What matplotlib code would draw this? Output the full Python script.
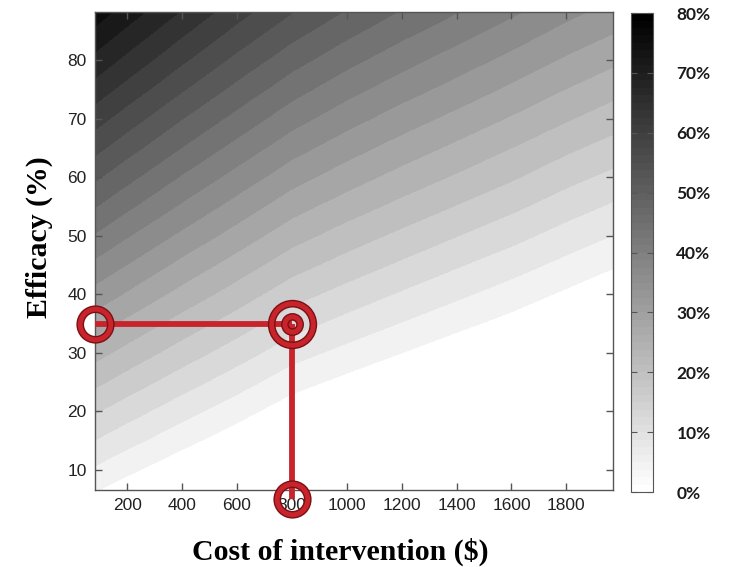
import numpy as np
import matplotlib
matplotlib.use("Agg")
import matplotlib.pyplot as plt
from matplotlib.colors import LinearSegmentedColormap, Normalize
import matplotlib.cm as cm

# ---- data ----
cost = [0, 200, 400, 600, 800, 1000, 1200, 1400, 1600, 1800, 2000]
efficacy = [5, 10, 15, 20, 25, 30, 35, 40, 45, 50, 55, 60, 65, 70, 75, 80, 85, 90]
# value (%) per efficacy row (rows) and cost column (columns)
value = [
    [4.5, 0.5, 0.0, 0.0, 0.0, 0.0, 0.0, 0.0, 0.0, 0.0, 0.0],
    [9.1, 4.9, 1.0, 0.0, 0.0, 0.0, 0.0, 0.0, 0.0, 0.0, 0.0],
    [13.7, 9.3, 5.3, 1.5, 0.0, 0.0, 0.0, 0.0, 0.0, 0.0, 0.0],
    [18.3, 13.7, 9.5, 5.6, 1.6, 0.0, 0.0, 0.0, 0.0, 0.0, 0.0],
    [22.9, 18.2, 13.8, 9.7, 5.6, 2.8, 0.3, 0.0, 0.0, 0.0, 0.0],
    [27.5, 22.6, 18.1, 13.9, 9.6, 6.7, 4.0, 1.4, 0.0, 0.0, 0.0],
    [32.1, 27.0, 22.3, 18.0, 13.6, 10.6, 7.8, 5.1, 2.6, 0.0, 0.0],
    [36.7, 31.5, 26.6, 22.1, 17.6, 14.4, 11.5, 8.8, 6.1, 3.3, 0.5],
    [41.3, 35.9, 30.8, 26.2, 21.6, 18.3, 15.3, 12.4, 9.7, 6.8, 4.0],
    [46.0, 40.3, 35.1, 30.3, 25.6, 22.1, 19.0, 16.1, 13.3, 10.3, 7.5],
    [50.6, 44.8, 39.4, 34.4, 29.6, 26.0, 22.8, 19.8, 16.9, 13.8, 11.0],
    [55.2, 49.2, 43.6, 38.5, 33.6, 29.9, 26.5, 23.5, 20.5, 17.3, 14.5],
    [59.8, 53.6, 47.9, 42.6, 37.6, 33.7, 30.3, 27.1, 24.0, 20.8, 18.0],
    [64.4, 58.0, 52.1, 46.7, 41.6, 37.6, 34.0, 30.8, 27.6, 24.4, 21.4],
    [69.0, 62.5, 56.4, 50.8, 45.6, 41.4, 37.8, 34.5, 31.2, 27.9, 24.9],
    [73.6, 66.9, 60.7, 54.9, 49.6, 45.3, 41.5, 38.1, 34.8, 31.4, 28.4],
    [78.2, 71.3, 64.9, 59.0, 53.6, 49.2, 45.3, 41.8, 38.4, 34.9, 31.9],
    [82.8, 75.8, 69.2, 63.1, 57.6, 53.0, 49.0, 45.5, 42.0, 38.4, 35.4],
]
x_ticks = [200, 400, 600, 800, 1000, 1200, 1400, 1600, 1800]
y_ticks = [10, 20, 30, 40, 50, 60, 70, 80]
cbar_ticks = [0, 10, 20, 30, 40, 50, 60, 70, 80]
cbar_labels = ["0%", "10%", "20%", "30%", "40%", "50%", "60%", "70%", "80%"]
target_cost = 800
target_eff = 35
marker_bottom_eff = 5.0
x_range = (83, 1970)
y_range = (6.6, 88.2)

# ---- figure ----
fig = plt.figure(figsize=(7.36, 5.67), dpi=100)
ax = fig.add_axes([0.129, 0.136, 0.704, 0.843])

levels = np.arange(0, 88, 4)
band_cols = [str(float(np.clip(1 - lv / 80.0, 0, 1))) for lv in levels[:-1]]
C, E = np.meshgrid(cost, efficacy)
ax.contourf(C, E, np.array(value), levels=levels, colors=band_cols)

ax.set_xlim(*x_range)
ax.set_ylim(*y_range)
ax.set_xticks(x_ticks)
ax.set_yticks(y_ticks)
ax.tick_params(direction="in", top=True, right=True, length=5, width=1,
               color="#555555", labelsize=12.5, labelcolor="#222222", pad=6)
for lab in ax.get_xticklabels() + ax.get_yticklabels():
    lab.set_fontfamily("Liberation Sans")
for s in ax.spines.values():
    s.set_color("#555555")
    s.set_linewidth(1.0)

# red annotation
red = "#c8242b"
dark = "#7a1014"
ax.plot([x_range[0], target_cost], [target_eff, target_eff], color=red, lw=4.2,
        solid_capstyle="butt", zorder=5, clip_on=False)
ax.plot([target_cost, target_cost], [target_eff, marker_bottom_eff], color=red, lw=4.2,
        solid_capstyle="butt", zorder=5, clip_on=False)
rings = [(x_range[0], target_eff, 22), (target_cost, target_eff, 30),
         (target_cost, target_eff, 11), (target_cost, marker_bottom_eff, 22)]
for (cx, cy, ms) in rings:
    ax.plot([cx], [cy], marker="o", ms=ms, mfc="none", mec=dark, mew=5.5,
            zorder=6, clip_on=False)
    ax.plot([cx], [cy], marker="o", ms=ms, mfc="none", mec=red, mew=3.5,
            zorder=7, clip_on=False)

# colorbar
cax = fig.add_axes([0.857, 0.132, 0.030, 0.845])
cmap = LinearSegmentedColormap.from_list("wb", ["white", "black"], N=64)
sm = cm.ScalarMappable(norm=Normalize(0, 80), cmap=cmap)
cb = fig.colorbar(sm, cax=cax)
cb.set_ticks(cbar_ticks)
cb.set_ticklabels(cbar_labels)
cb.outline.set_edgecolor("#555555")
cax.tick_params(direction="in", left=True, right=True, length=4, color="#555555",
                pad=17, labelsize=12.5)
for lab in cax.get_yticklabels():
    lab.set_fontfamily("Lato")
    lab.set_fontweight("bold")
    lab.set_color("#1a1a1a")

# axis titles
fig.text(340 / 736, 1 - 552 / 567, "Cost of intervention ($)", ha="center", va="center",
         fontsize=21.5, fontweight="bold", family="Liberation Serif")
fig.text(39 / 736, 1 - 237 / 567, "Efficacy (%)", ha="center", va="center", rotation=90,
         fontsize=21.5, fontweight="bold", family="Liberation Serif")

fig.savefig("out.png", dpi=100)
